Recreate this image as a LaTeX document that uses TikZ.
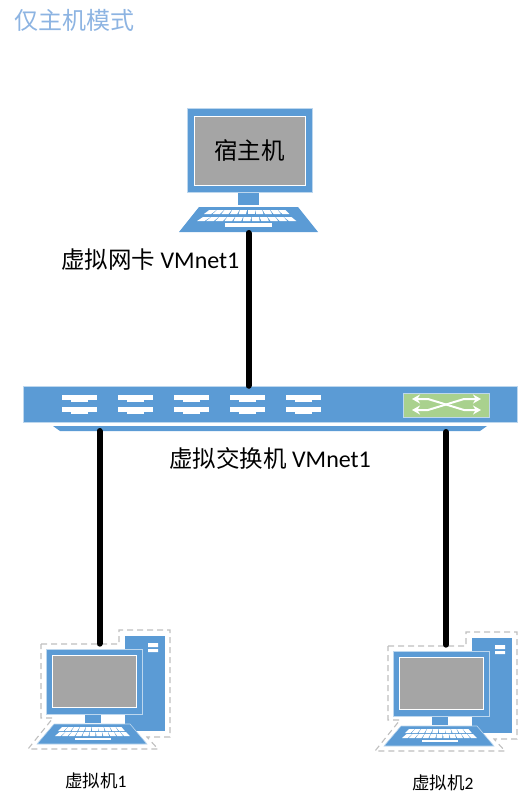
\documentclass[tikz,border=0pt]{standalone}
\usepackage{fontspec}
\setmainfont{Carlito}
\newfontfamily\cjk{Noto Sans CJK SC}
\usetikzlibrary{positioning,arrows.meta,calc}
\definecolor{netblue}{HTML}{5B9BD5}
\definecolor{edgeblue}{HTML}{BDD7EE}
\definecolor{scrgrey}{HTML}{A5A5A5}
\definecolor{dashgrey}{HTML}{BFBFBF}
\definecolor{swgreen}{HTML}{A9D18E}
\definecolor{titleblue}{HTML}{8DB4E2}
\tikzset{
  monbox/.style ={draw=edgeblue, fill=netblue, inner sep=0pt, line width=.6pt},
  scrbox/.style ={draw=white, fill=scrgrey, inner sep=0pt, line width=.8pt},
  ethline/.style={line width=6pt, line cap=round, black},
  portbar/.style={fill=white},
  lbl/.style    ={inner sep=0pt, anchor=west, text=black},
  xarrow/.style ={{Stealth[length=8pt,width=9pt]}-{Stealth[length=8pt,width=9pt]}, white, line width=2pt},
}
% one row of keys: left, right, top, bottom, number of keys
\newcommand{\keyrow}[5]{
  \foreach \k in {1,...,#5}{
    \pgfmathsetmacro{\kl}{#1+(\k-1)*(#2-#1)/#5}
    \pgfmathsetmacro{\kr}{\kl+.82*(#2-#1)/#5}
    \pgfmathsetmacro{\kt}{.12*((#1+#2)/2-\kl)}
    \fill[white] (\kl,#4) -- (\kr,#4) -- (\kr+\kt,#3) -- (\kl+\kt,#3) -- cycle;
  }
}
% desktop computer in a dashed outline
\newcommand{\vmpc}[3]{
  \begin{scope}[shift={(#2,#3)}]
    \draw[dashgrey, dash pattern=on 6pt off 4pt, line width=1.1pt] (41,644) -- (119,644) -- (119,630) -- (170,630)
      -- (170,737) -- (147,737) -- (158,749) -- (28,749) -- (53,718) -- (41,718) -- cycle;
    \fill[netblue] (125,636) rectangle (165,731);
    \fill[white] (148,643) rectangle (158,647) (148,649) rectangle (158,652);
    \node[monbox, minimum width=96pt, minimum height=65pt] (#1) at (94,681.5) {};
    \node[scrbox, minimum width=84pt, minimum height=52pt] (#1scr) at (94,681) {};
    \fill[netblue] (85,714.5) rectangle (101,723);
    \filldraw[netblue, draw=edgeblue, line width=.6pt] (54,724) -- (130,724) -- (147,744) -- (37,744) -- cycle;
    \keyrow{58}{126}{727}{731}{10}
    \keyrow{55}{131}{732}{736}{11}
    \fill[white] (75,737.5) rectangle (111,740);
  \end{scope}
}
\begin{document}
\begin{tikzpicture}[x=1pt,y=-1pt]
\useasboundingbox (0,0) rectangle (518,806);
\node[lbl, text=titleblue, font=\cjk\fontsize{24}{28}\selectfont] (title) at (14,20) {仅主机模式};

% host
\node[monbox, minimum width=125pt, minimum height=84pt] (host) at (249.5,150) {};
\node[scrbox, minimum width=111pt, minimum height=69pt, font=\cjk\fontsize{23.5}{28}\selectfont] (hostscr) at (249.5,150.5) {宿主机};
\fill[netblue] (238,192.5) rectangle (259,205);
\fill[netblue] (199,207) -- (298,207) -- (318,232) -- (179,232) -- cycle;
\keyrow{204}{291}{210}{214}{10}
\keyrow{197}{298}{217}{221}{11}
\fill[white] (225,223) rectangle (272,227);
\coordinate (hostkbd) at (248.5,233);

% switch
\node[fill=netblue, draw=edgeblue, line width=.5pt, inner sep=0pt, minimum width=494pt, minimum height=36pt] (sw) at (270,404) {};
\fill[netblue] (53,426) -- (487,426) -- (480,431) -- (60,431) -- cycle;
\foreach \x in {62,118,174,230,286}{
  \foreach \y in {395,407}{
    \fill[portbar] (\x,\y) rectangle (\x+35,\y+5);
    \fill[portbar] (\x+9,\y+5) rectangle (\x+26,\y+7);
  }
}
\node[fill=swgreen, draw=edgeblue, line width=.5pt, inner sep=0pt, minimum width=86pt, minimum height=24pt] (swlamp) at (446,405) {};
\draw[xarrow] (412,399) -- (428,399) -- (464,410) -- (481,410);
\draw[xarrow] (412,410) -- (428,410) -- (464,399) -- (481,399);
\coordinate (swp1) at (99.5,431);
\coordinate (swp2) at (446,432);

% virtual machines
\vmpc{vma}{0}{0}
\vmpc{vmb}{347}{2}

% links
\draw[ethline] (hostkbd) -- (hostkbd |- sw.north);
\draw[ethline, shorten >=5pt] (swp1) -- (swp1 |- vma.north);
\draw[ethline, shorten >=6pt] (swp2) -- (swp2 |- vmb.north);

\node[lbl, font=\fontsize{24}{28}\selectfont] (nic) at (61,260) {{\fontsize{23.5}{28}\selectfont\cjk 虚拟网卡} VMnet1};
\node[lbl, font=\fontsize{24}{28}\selectfont] (swname) at (169,458) {{\fontsize{23.5}{28}\selectfont\cjk 虚拟交换机} VMnet1};
\node[lbl, font=\fontsize{17.5}{21}\selectfont] (vmaname) at (65,781) {{\cjk 虚拟机}1};
\node[lbl, font=\fontsize{17.5}{21}\selectfont] (vmbname) at (412,783) {{\cjk 虚拟机}2};
\end{tikzpicture}
\end{document}
